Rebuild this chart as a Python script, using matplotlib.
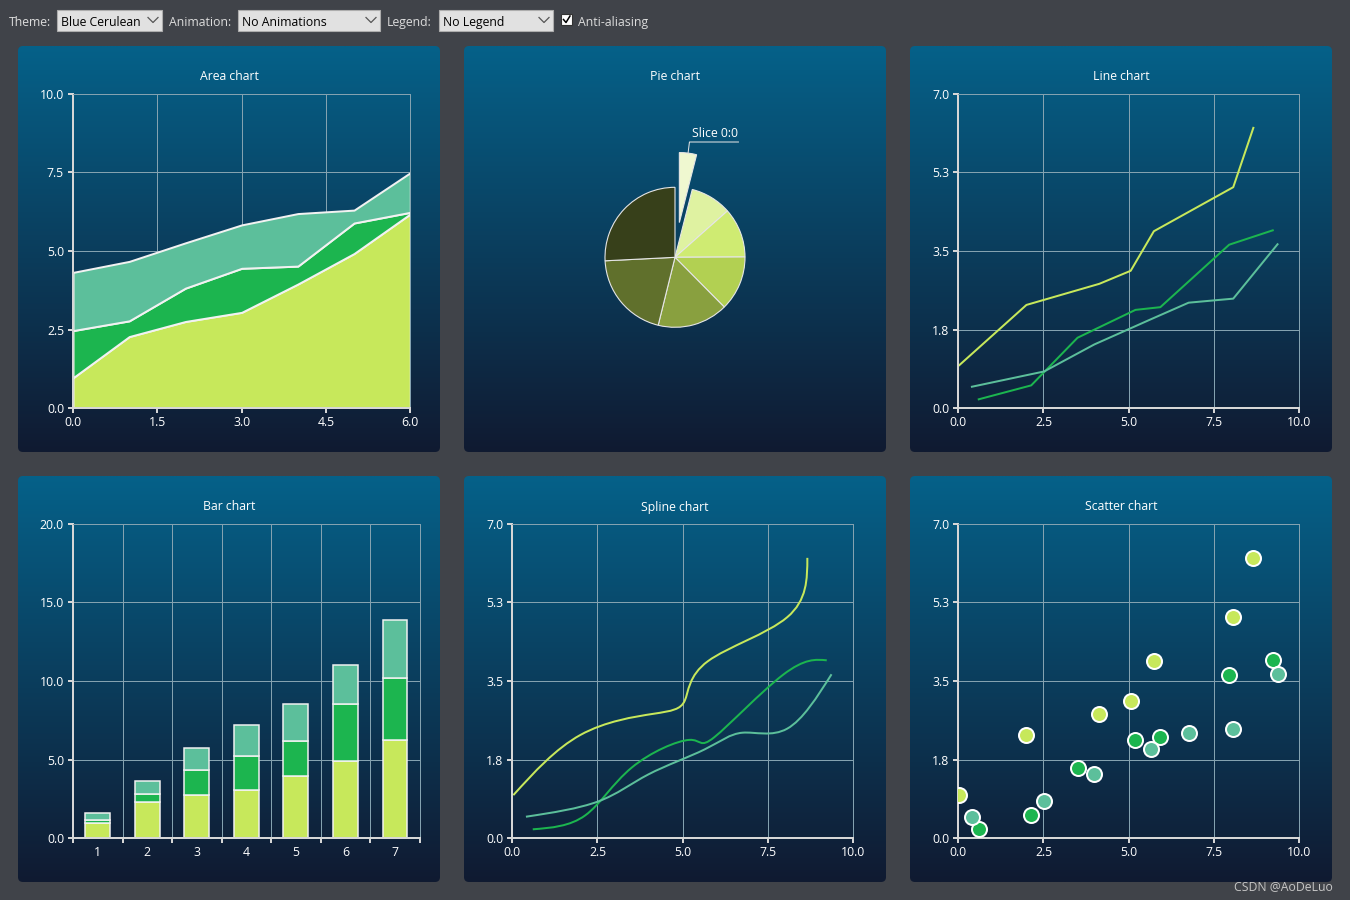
import numpy as np
import matplotlib
matplotlib.use("Agg")
import matplotlib.pyplot as plt
from matplotlib.patches import FancyBboxPatch, Rectangle, PathPatch
from matplotlib.path import Path

plt.rcParams['font.family'] = ['Open Sans', 'DejaVu Sans']

# ---------------- data ----------------
s1_x = [0.03, 2.00, 4.14, 5.06, 5.74, 8.07, 8.66]
s1_y = [0.96, 2.30, 2.77, 3.06, 3.94, 4.92, 6.24]
s2_x = [0.60, 2.14, 3.50, 5.20, 5.93, 7.95, 9.23]
s2_y = [0.20, 0.51, 1.57, 2.19, 2.25, 3.64, 3.96]
s3_x = [0.40, 2.52, 3.99, 5.65, 6.76, 8.07, 9.37]
s3_y = [0.48, 0.82, 1.42, 1.98, 2.35, 2.44, 3.65]

area_x = [0, 1, 2, 3, 4, 5, 6]
area_lower = [0.97, 2.28, 2.76, 3.05, 3.95, 4.92, 6.18]
area_middle = [2.47, 2.78, 3.82, 4.45, 4.52, 5.89, 6.23]
area_upper = [4.32, 4.67, 5.26, 5.83, 6.19, 6.30, 7.49]

bar_categories = ['1', '2', '3', '4', '5', '6', '7']

pie_values = s1_y
pie_label = 'Slice 0:0'

area_xticks = [0, 1.5, 3, 4.5, 6]
area_xlabels = ['0.0', '1.5', '3.0', '4.5', '6.0']
area_yticks = [0, 2.5, 5, 7.5, 10]
area_ylabels = ['0.0', '2.5', '5.0', '7.5', '10.0']
xy_xticks = [0, 2.5, 5, 7.5, 10]
xy_xlabels = ['0.0', '2.5', '5.0', '7.5', '10.0']
xy_yticks = [0, 1.75, 3.5, 5.25, 7]
xy_ylabels = ['0.0', '1.8', '3.5', '5.3', '7.0']
bar_yticks = [0, 5, 10, 15, 20]
bar_ylabels = ['0.0', '5.0', '10.0', '15.0', '20.0']

titles = ['Area chart', 'Pie chart', 'Line chart', 'Bar chart', 'Spline chart', 'Scatter chart']

# ---------------- style ----------------
W, H = 1350, 900
WIN_BG = '#404349'
GRAD_TOP = np.array([0x05, 0x61, 0x89]) / 255
GRAD_BOT = np.array([0x10, 0x1a, 0x31]) / 255
SERIES = ['#c7e85b', '#1cb54f', '#5cbf9b']
PIE_COLORS = ['#eff8d0', '#dff2a1', '#cfeb72', '#b2d052', '#89a03f', '#60702c', '#37401a']
AXIS = '#d6d6d6'
GRID = '#84a2b0'
OUTLINE = '#f2f2f2'
PX = 0.72  # points per pixel at dpi 100
FS = 8.8

fig = plt.figure(figsize=(W / 100, H / 100), dpi=100)
fig.patch.set_facecolor(WIN_BG)
bg = fig.add_axes([0, 0, 1, 1])
bg.set_xlim(0, W)
bg.set_ylim(H, 0)
bg.axis('off')

panels = [(18, 46, 440, 452), (464, 46, 886, 452), (910, 46, 1332, 452),
          (18, 476, 440, 882), (464, 476, 886, 882), (910, 476, 1332, 882)]
grad = np.linspace(0, 1, 256)[:, None, None]
grad_img = GRAD_TOP[None, None, :] * (1 - grad) + GRAD_BOT[None, None, :] * grad
for (x0, y0, x1, y1), t in zip(panels, titles):
    clip = FancyBboxPatch((x0, y0), x1 - x0, y1 - y0,
                          boxstyle='round,pad=0,rounding_size=5',
                          facecolor='none', edgecolor='none', transform=bg.transData)
    bg.add_patch(clip)
    im = bg.imshow(grad_img, extent=(x0, x1, y1, y0), origin='upper',
                   aspect='auto', interpolation='bilinear', zorder=0)
    im.set_clip_path(clip)
    bg.text((x0 + x1) / 2, y0 + 29.5, t, color='white', fontsize=FS,
            ha='center', va='center_baseline')
bg.set_xlim(0, W)
bg.set_ylim(H, 0)

# ---------------- toolbar ----------------
TB_TXT = '#dcdcdc'
TY = 21


def combo(x0, x1, text):
    bg.add_patch(Rectangle((x0, 10), x1 - x0, 21, facecolor='#e1e1e1',
                           edgecolor='#adadad', lw=0.8))
    bg.text(x0 + 4, TY, text, color='black', fontsize=FS, ha='left', va='center_baseline')
    cx = x1 - 9
    bg.plot([cx - 5, cx, cx + 5], [17.5, 22.5, 17.5], color='#555555', lw=0.9)


bg.text(9, TY, 'Theme:', color=TB_TXT, fontsize=FS, ha='left', va='center_baseline')
combo(57, 162, 'Blue Cerulean')
bg.text(169, TY, 'Animation:', color=TB_TXT, fontsize=FS, ha='left', va='center_baseline')
combo(238, 380, 'No Animations')
bg.text(387, TY, 'Legend:', color=TB_TXT, fontsize=FS, ha='left', va='center_baseline')
combo(439, 553, 'No Legend')
bg.add_patch(Rectangle((561, 14), 11, 11, facecolor='white', edgecolor='#333333', lw=0.8))
bg.plot([563.5, 566, 570], [19.5, 22.5, 16], color='black', lw=1.1)
bg.text(578, TY, 'Anti-aliasing', color=TB_TXT, fontsize=FS, ha='left', va='center_baseline')
bg.text(1333, 885, 'CSDN @AoDeLuo', color='#c6c6c6', fontsize=FS, ha='right',
        va='center_baseline')


# ---------------- helpers ----------------
def px_axes(x0, y0, x1, y1):
    return fig.add_axes([x0 / W, 1 - y1 / H, (x1 - x0) / W, (y1 - y0) / H])


def style(ax, xlim, ylim, yticks, ylabels, xticks=None, xlabels=None):
    ax.set_facecolor('none')
    ax.set_xlim(*xlim)
    ax.set_ylim(*ylim)
    ax.set_yticks(yticks)
    ax.set_yticklabels(ylabels)
    if xticks is not None:
        ax.set_xticks(xticks)
        ax.set_xticklabels(xlabels)
    ax.grid(True, color=GRID, lw=1 * PX)
    ax.set_axisbelow(True)
    for s in ['left', 'bottom']:
        ax.spines[s].set_color(AXIS)
        ax.spines[s].set_linewidth(2 * PX)
    for s in ['top', 'right']:
        ax.spines[s].set_color(GRID)
        ax.spines[s].set_linewidth(1 * PX)
    ax.tick_params(which='major', colors=AXIS, labelcolor='white', length=5 * PX,
                   width=2 * PX, labelsize=FS)
    ax.tick_params(axis='y', pad=4 * PX)
    ax.tick_params(axis='x', pad=3 * PX)


def control_points(k):
    k = np.asarray(k, float)
    n = len(k) - 1
    rhs = np.empty(n)
    rhs[0] = k[0] + 2 * k[1]
    for i in range(1, n - 1):
        rhs[i] = 4 * k[i] + 2 * k[i + 1]
    rhs[n - 1] = (8 * k[n - 1] + k[n]) / 2.0
    x = np.empty(n)
    tmp = np.zeros(n)
    b = 2.0
    x[0] = rhs[0] / b
    for i in range(1, n):
        tmp[i] = 1 / b
        b = (4.0 if i < n - 1 else 3.5) - tmp[i]
        x[i] = (rhs[i] - x[i - 1]) / b
    for i in range(1, n):
        x[n - i - 1] -= tmp[n - i] * x[n - i]
    second = np.empty(n)
    for i in range(n):
        second[i] = 2 * k[i + 1] - x[i + 1] if i < n - 1 else (k[n] + x[n - 1]) / 2
    return x, second


def spline_path(xs, ys):
    c1x, c2x = control_points(xs)
    c1y, c2y = control_points(ys)
    verts = [(xs[0], ys[0])]
    codes = [Path.MOVETO]
    for i in range(len(xs) - 1):
        verts += [(c1x[i], c1y[i]), (c2x[i], c2y[i]), (xs[i + 1], ys[i + 1])]
        codes += [Path.CURVE4] * 3
    return Path(verts, codes)


series = [(s1_x, s1_y), (s2_x, s2_y), (s3_x, s3_y)]

# ---------------- area chart ----------------
ax = px_axes(73, 93.7, 410.3, 408.3)
style(ax, (0, 6), (0, 10), area_yticks, area_ylabels, area_xticks, area_xlabels)
layers = [(np.zeros(len(area_x)), area_lower), (area_lower, area_middle), (area_middle, area_upper)]
for (lo, hi), c in zip(layers, SERIES):
    ax.fill_between(area_x, lo, hi, facecolor=c, edgecolor=OUTLINE, lw=2 * PX, zorder=1)

# ---------------- pie chart ----------------
cx, cy, R = 675, 257.3, 70
half = 150
ax = px_axes(cx - half, cy - half, cx + half, cy + half)
explode = [0.5] + [0] * (len(pie_values) - 1)
wedges, _ = ax.pie(pie_values, colors=PIE_COLORS, startangle=90, counterclock=False,
                   explode=explode, wedgeprops=dict(edgecolor='#e6e6e6', linewidth=1.1 * PX))
L = half / R
ax.set_xlim(-L, L)
ax.set_ylim(-L, L)
ax.set_facecolor('none')
ax.axis('off')
th = np.deg2rad((wedges[0].theta1 + wedges[0].theta2) / 2)
r0, r1 = 1.5, 1.66
p0 = (r0 * np.cos(th), r0 * np.sin(th))
p1 = (r1 * np.cos(th), r1 * np.sin(th))
lab_w = 0.7
ax.plot([p0[0], p1[0], p1[0] + lab_w], [p0[1], p1[1], p1[1]], color='#e6e6e6', lw=1 * PX)
ax.text(p1[0] + 0.03, p1[1] + 0.03, pie_label, color='white', fontsize=FS,
        ha='left', va='bottom')

# ---------------- line chart ----------------
ax = px_axes(958.3, 93.7, 1299, 408.3)
style(ax, (0, 10), (0, 7), xy_yticks, xy_ylabels, xy_xticks, xy_xlabels)
for (xs, ys), c in zip(series, SERIES):
    ax.plot(xs, ys, color=c, lw=2 * PX, zorder=2)

# ---------------- bar chart ----------------
ax = px_axes(73, 523.7, 419.7, 838.3)
pos = np.arange(1, len(bar_categories) + 1)
style(ax, (0.5, len(bar_categories) + 0.5), (0, 20), bar_yticks, bar_ylabels)
ax.set_xticks(np.arange(0.5, len(bar_categories) + 1, 1.0))
ax.set_xticklabels([])
ax.set_xticks(pos, minor=True)
ax.set_xticklabels(bar_categories, minor=True)
ax.tick_params(axis='x', which='minor', length=0, labelcolor='white', labelsize=FS, pad=8 * PX)
bottom = np.zeros(len(pos))
for (xs, ys), c in zip(series, SERIES):
    ax.bar(pos, ys, width=0.5, bottom=bottom, color=c, edgecolor=OUTLINE,
           linewidth=1.5 * PX, zorder=2)
    bottom = bottom + np.asarray(ys)

# ---------------- spline chart ----------------
ax = px_axes(512.3, 523.7, 853, 838.3)
style(ax, (0, 10), (0, 7), xy_yticks, xy_ylabels, xy_xticks, xy_xlabels)
for (xs, ys), c in zip(series, SERIES):
    ax.add_patch(PathPatch(spline_path(xs, ys), facecolor='none', edgecolor=c,
                           lw=2 * PX, zorder=2))

# ---------------- scatter chart ----------------
ax = px_axes(958.3, 523.7, 1299, 838.3)
style(ax, (0, 10), (0, 7), xy_yticks, xy_ylabels, xy_xticks, xy_xlabels)
for i, ((xs, ys), c) in enumerate(zip(series, SERIES)):
    ax.scatter(xs, ys, s=(15 * PX) ** 2, color=c, edgecolors='white',
               linewidths=2 * PX, zorder=3 + i)

fig.savefig('out.png', dpi=100, facecolor=fig.get_facecolor())
